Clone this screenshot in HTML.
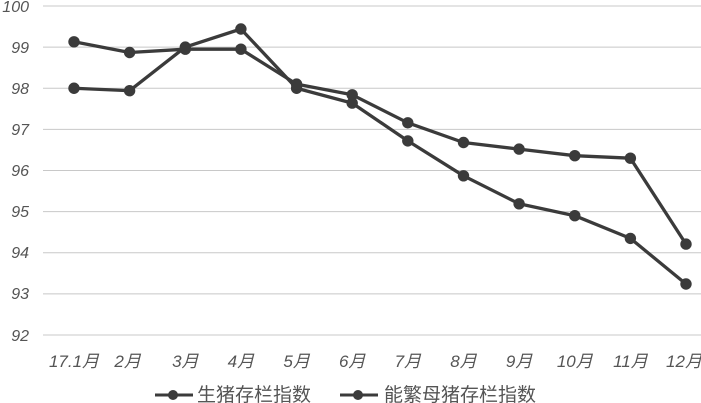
<!DOCTYPE html>
<html><head><meta charset="utf-8"><style>
html,body{margin:0;padding:0;background:#fff;}
svg{display:block;}
text{font-family:"Liberation Sans","Noto Sans CJK SC",sans-serif;fill:#555;}
</style></head><body>
<svg width="701" height="403" viewBox="0 0 701 403" xmlns="http://www.w3.org/2000/svg">
<rect width="701" height="403" fill="#fff"/>
<g stroke="#c8c8c8" stroke-width="1">
<line x1="43" y1="6" x2="701" y2="6"/>
<line x1="43" y1="47.1" x2="701" y2="47.1"/>
<line x1="43" y1="88.25" x2="701" y2="88.25"/>
<line x1="43" y1="129.4" x2="701" y2="129.4"/>
<line x1="43" y1="170.5" x2="701" y2="170.5"/>
<line x1="43" y1="211.6" x2="701" y2="211.6"/>
<line x1="43" y1="252.75" x2="701" y2="252.75"/>
<line x1="43" y1="293.9" x2="701" y2="293.9"/>
<line x1="43" y1="335" x2="701" y2="335"/>
</g>
<g font-size="16" font-style="italic" text-anchor="end">
<text x="29" y="12">100</text>
<text x="29" y="53">99</text>
<text x="29" y="94">98</text>
<text x="29" y="135">97</text>
<text x="29" y="176">96</text>
<text x="29" y="217">95</text>
<text x="29" y="258">94</text>
<text x="29" y="299">93</text>
<text x="29" y="341">92</text>
</g>
<g font-size="17" font-style="italic" text-anchor="middle">
<text x="74" y="367">17.1月</text>
<text x="127.6" y="367">2月</text>
<text x="185.3" y="367">3月</text>
<text x="240.9" y="367">4月</text>
<text x="296.6" y="367">5月</text>
<text x="352.2" y="367">6月</text>
<text x="407.8" y="367">7月</text>
<text x="463.5" y="367">8月</text>
<text x="519.1" y="367">9月</text>
<text x="574.8" y="367">10月</text>
<text x="630.4" y="367">11月</text>
<text x="684" y="367">12月</text>
</g>
<g fill="none" stroke="#3b3b3b" stroke-width="3.3" stroke-linejoin="round">
<polyline points="74,88.25 129.6,90.7 185.3,47.1 240.9,29 296.6,88.25 352.2,103.1 407.8,140.9 463.5,175.8 519.1,203.8 574.8,215.7 630.4,238.4 686,284"/>
<polyline points="74,41.8 129.6,52.5 185.3,49.2 240.9,49.2 296.6,84.1 352.2,94.8 407.8,122.8 463.5,142.5 519.1,149.1 574.8,155.7 630.4,158.2 686,244.1"/>
</g>
<g fill="#3b3b3b">
<circle cx="74" cy="88.25" r="5.7"/><circle cx="129.6" cy="90.7" r="5.7"/><circle cx="185.3" cy="47.1" r="5.7"/><circle cx="240.9" cy="29" r="5.7"/><circle cx="296.6" cy="88.25" r="5.7"/><circle cx="352.2" cy="103.1" r="5.7"/><circle cx="407.8" cy="140.9" r="5.7"/><circle cx="463.5" cy="175.8" r="5.7"/><circle cx="519.1" cy="203.8" r="5.7"/><circle cx="574.8" cy="215.7" r="5.7"/><circle cx="630.4" cy="238.4" r="5.7"/><circle cx="686" cy="284" r="5.7"/>
<circle cx="74" cy="41.8" r="5.7"/><circle cx="129.6" cy="52.5" r="5.7"/><circle cx="185.3" cy="49.2" r="5.7"/><circle cx="240.9" cy="49.2" r="5.7"/><circle cx="296.6" cy="84.1" r="5.7"/><circle cx="352.2" cy="94.8" r="5.7"/><circle cx="407.8" cy="122.8" r="5.7"/><circle cx="463.5" cy="142.5" r="5.7"/><circle cx="519.1" cy="149.1" r="5.7"/><circle cx="574.8" cy="155.7" r="5.7"/><circle cx="630.4" cy="158.2" r="5.7"/><circle cx="686" cy="244.1" r="5.7"/>
</g>
<g>
<line x1="155" y1="395" x2="193" y2="395" stroke="#3b3b3b" stroke-width="3"/>
<circle cx="173" cy="395" r="5" fill="#3b3b3b"/>
<text x="197" y="401" font-size="19">生猪存栏指数</text>
<line x1="340" y1="395" x2="378" y2="395" stroke="#3b3b3b" stroke-width="3"/>
<circle cx="358" cy="395" r="5" fill="#3b3b3b"/>
<text x="384" y="401" font-size="19">能繁母猪存栏指数</text>
</g>
</svg>
</body></html>
